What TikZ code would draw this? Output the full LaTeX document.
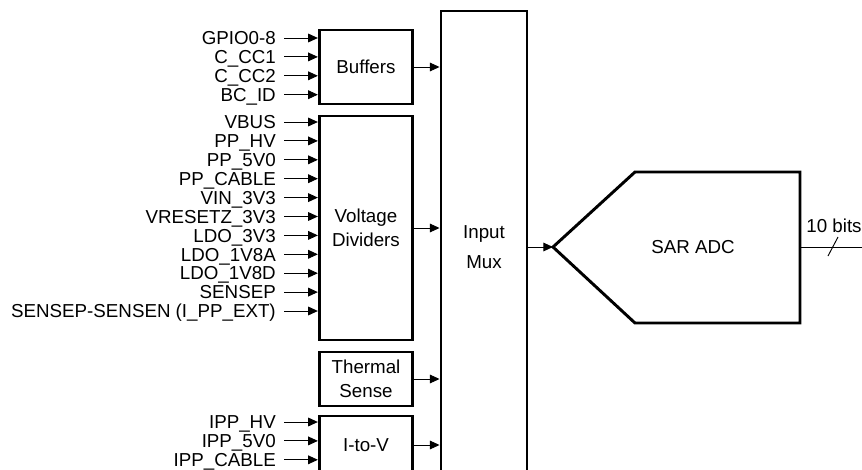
\documentclass[tikz,border=0pt]{standalone}
\usepackage{fontspec}
\setmainfont{Liberation Sans}
\usetikzlibrary{arrows.meta}

\begin{document}
\begin{tikzpicture}[x=0.03cm, y=-0.03cm,
    font=\fontsize{16}{20.4}\selectfont,
    block/.style={draw, line width=2.5pt, minimum width=2.8cm, align=center, inner sep=0pt},
    sig/.style={line width=0.8pt, -{Triangle[length=0.29cm,width=0.26cm]}},
    lbl/.style={anchor=east, inner ysep=0pt, inner xsep=0.24cm, text height=11.5pt, text depth=0pt}]

\useasboundingbox (0,0) rectangle (862,469);
\clip (0,0) rectangle (862,469);

% Blocks
\node[block, minimum height=2.22cm] (buf) at (366,67) {Buffers};
\node[block, minimum height=6.72cm] (vdiv) at (366,228) {Voltage\\Dividers};
\node[block, minimum height=1.62cm] (therm) at (366,379) {Thermal\\Sense};
\node[block, minimum height=1.74cm] (itov) at (366,445) {I-to-V};
\node[block, minimum width=2.58cm, minimum height=14.16cm,
      font=\fontsize{16}{25.5}\selectfont] (mux) at (484,247) {Input\\Mux};

% Inputs to the buffers
\foreach \name [count=\i] in {GPIO0-8, C\_CC1, C\_CC2, BC\_ID}
{
    \node[lbl] (b\i) at (284, {38+(\i-1)*18.9}) {\name};
    \draw[sig] (b\i.east) -- (b\i.east -| buf.west);
}

% Inputs to the dividers
\foreach \name [count=\i] in {VBUS, PP\_HV, PP\_5V0, PP\_CABLE, VIN\_3V3, VRESETZ\_3V3,
    LDO\_3V3, LDO\_1V8A, LDO\_1V8D, SENSEP, {SENSEP-SENSEN (I\_PP\_EXT)}}
{
    \node[lbl] (v\i) at (284, {122+(\i-1)*18.9}) {\name};
    \draw[sig] (v\i.east) -- (v\i.east -| vdiv.west);
}

% Inputs to I-to-V
\foreach \name [count=\i] in {IPP\_HV, IPP\_5V0, IPP\_CABLE}
{
    \node[lbl] (p\i) at (284, {422+(\i-1)*18.9}) {\name};
    \draw[sig] (p\i.east) -- (p\i.east -| itov.west);
}

% Blocks into the mux
\foreach \blk in {buf, vdiv, therm, itov}
{
    \draw[sig] (\blk.east) -- (\blk.east -| mux.west);
}

% SAR ADC
\coordinate (adcin) at (553,247);
\coordinate (adcout) at (800,247);
\draw[line width=2.5pt] (adcin) -- (635,172) -- (800,172) -- (800,323) -- (635,323) -- cycle;
\node (adc) at (693,247) {SAR ADC};
\draw[sig] (mux.east |- adcin) -- (adcin);

% Output bus
\coordinate (bus) at (875,247);
\draw[line width=0.8pt] (adcout) -- (bus);
\draw[line width=0.8pt] (828,256) -- (838,237);
\node (bits) at (834,226) {10 bits};

\end{tikzpicture}
\end{document}
